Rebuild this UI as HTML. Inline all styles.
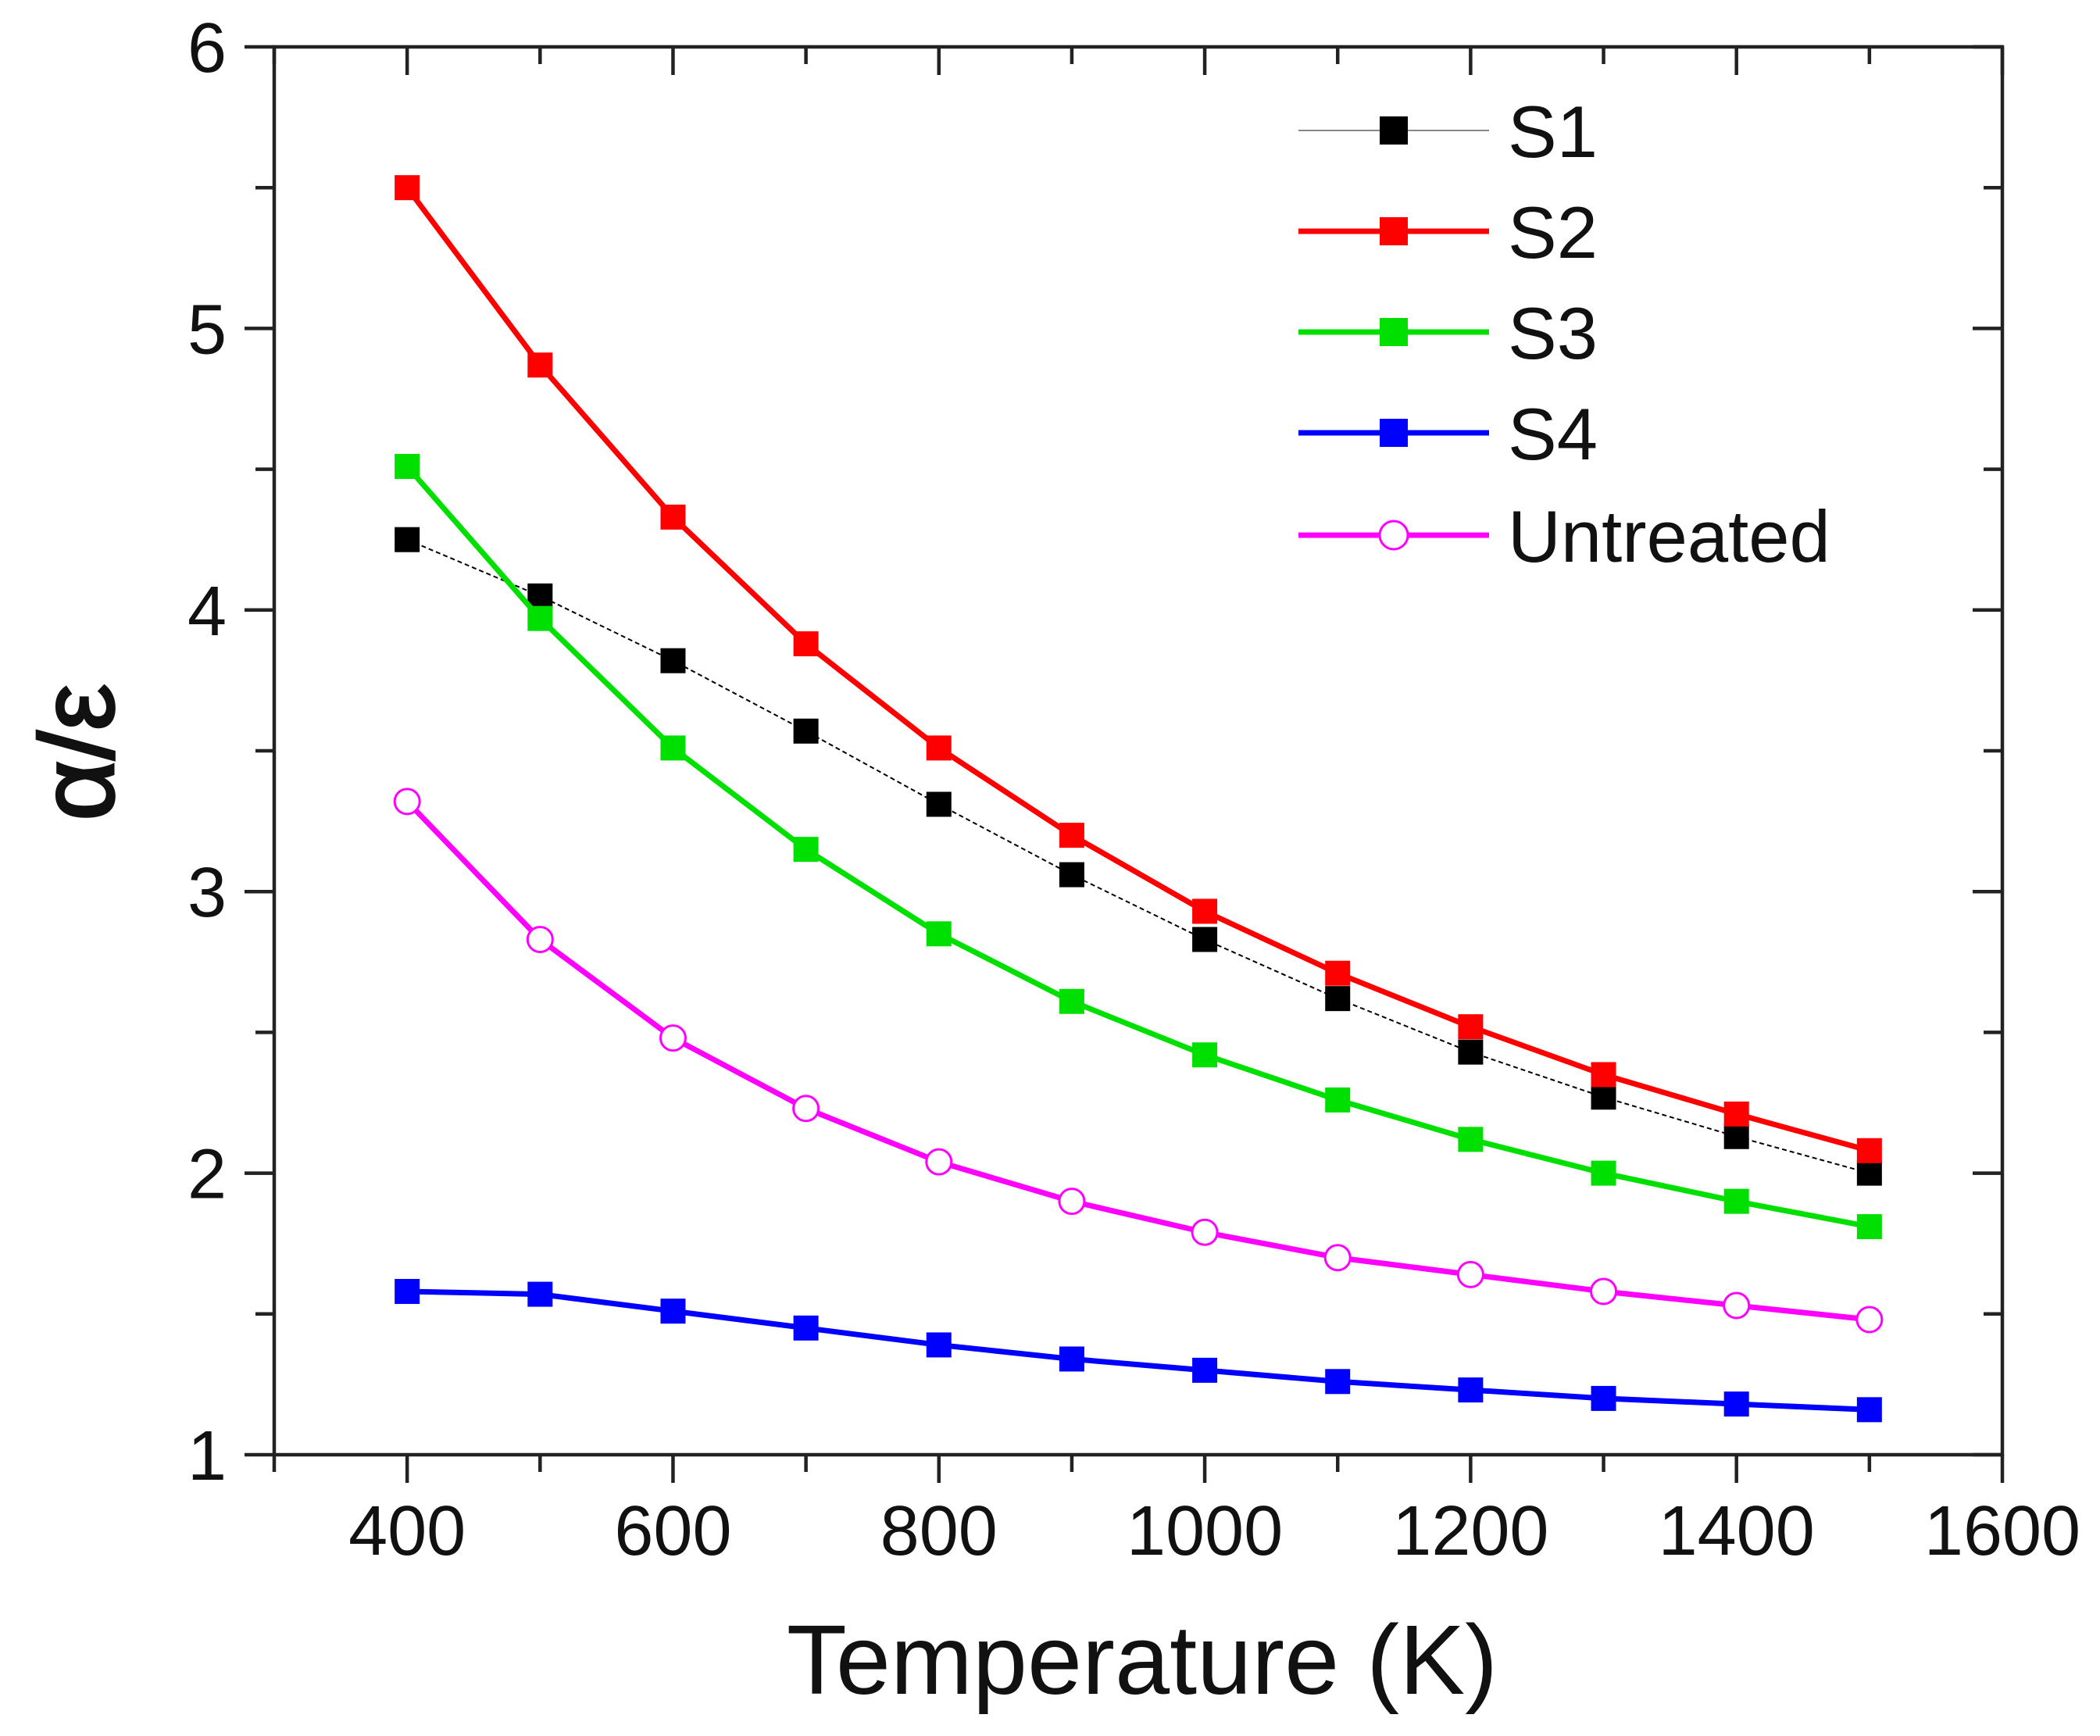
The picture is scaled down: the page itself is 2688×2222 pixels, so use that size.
<!DOCTYPE html>
<html><head><meta charset="utf-8"><style>
html,body{margin:0;padding:0;background:#fff}
svg{display:block}
text{font-family:"Liberation Sans",sans-serif;fill:#111}
</style></head><body>
<svg id="chart" width="2688" height="2222" viewBox="0 0 2688 2222" xmlns="http://www.w3.org/2000/svg">
<g id="grid"></g>
<g id="series"></g>
<g id="legend"></g>
<text x="1462" y="2168" font-size="126" text-anchor="middle">Temperature (K)</text>
<text x="0" y="0" font-size="135" text-anchor="middle" stroke="#111" stroke-width="3" transform="translate(145,963) rotate(-90)">α/ε</text>
</svg>
<script>
const temps=[400,500,600,700,800,900,1000,1100,1200,1300,1400,1500];
const s1=[4.25,4.05,3.82,3.57,3.31,3.06,2.83,2.62,2.43,2.27,2.13,2.0];
const s2=[5.5,4.87,4.33,3.88,3.51,3.2,2.93,2.71,2.52,2.35,2.21,2.08];
const s3=[4.51,3.97,3.51,3.15,2.85,2.61,2.42,2.26,2.12,2.0,1.9,1.81];
const s4=[1.58,1.57,1.51,1.45,1.39,1.34,1.30,1.26,1.23,1.20,1.18,1.16];
const untreated=[3.32,2.83,2.48,2.23,2.04,1.9,1.79,1.70,1.64,1.58,1.53,1.48];
const xTicks=[400,600,800,1000,1200,1400,1600];
const yTicks=[1,2,3,4,5,6];
const seriesNames=["S1","S2","S3","S4","Untreated"];

const NS="http://www.w3.org/2000/svg";
const L=351,R=2563,T=60,B=1862;
const X=v=>L+(v-300)/(1600-300)*(R-L);
const Y=v=>B-(v-1)/(6-1)*(B-T);
function mk(tag,attrs,parent){const e=document.createElementNS(NS,tag);for(const k in attrs)e.setAttribute(k,attrs[k]);parent.appendChild(e);return e;}
const grid=document.getElementById('grid');
const frame=mk('rect',{x:L,y:T,width:R-L,height:B-T,fill:'none',stroke:'#222','stroke-width':4.5},grid);


for(let v=300;v<=1600;v+=100){
  const major=v%200===0;const len=major?36:22;const x=X(v);
  const t1=mk('line',{x1:x,y1:B,x2:x,y2:B+len,stroke:'#222','stroke-width':4.5},grid);
  
  
  const t2=mk('line',{x1:x,y1:T,x2:x,y2:T+len,stroke:'#222','stroke-width':4.5},grid);
  
  
}
xTicks.forEach(v=>{
  const t=mk('text',{x:X(v),y:1990,'font-size':90,'text-anchor':'middle'},grid);t.textContent=v;
  
  
});
for(let v=1;v<=6.001;v+=0.5){
  const major=Math.abs(v-Math.round(v))<0.01;const len=major?38:24;const y=Y(v);
  const t1=mk('line',{x1:L-len,y1:y,x2:L,y2:y,stroke:'#222','stroke-width':4.5},grid);
  
  
  const t2=mk('line',{x1:R-len,y1:y,x2:R,y2:y,stroke:'#222','stroke-width':4.5},grid);
  
  
}
yTicks.forEach(v=>{
  const t=mk('text',{x:290,y:Y(v)+32,'font-size':90,'text-anchor':'end'},grid);t.textContent=v;
  
  
});
const styles=[
 {data:s1,color:'#000',lw:2,dash:'6,4',open:false},
 {data:s2,color:'#ff0000',lw:7,dash:'',open:false},
 {data:s3,color:'#00e000',lw:7,dash:'',open:false},
 {data:s4,color:'#0000ff',lw:7,dash:'',open:false},
 {data:untreated,color:'#ff00ff',lw:7,dash:'',open:true}
];
const sg=document.getElementById('series');
const lg=document.getElementById('legend');
const rowsY=[167,296,425,554,685];
styles.forEach((s,i)=>{
  const g=mk('g',{},sg);
  
  
  const pts=temps.map((t,j)=>X(t)+','+Y(s.data[j])).join(' ');
  const pl=mk('polyline',{points:pts,fill:'none',stroke:s.color,'stroke-width':s.lw,'stroke-dasharray':s.dash,'stroke-linejoin':'round'},g);
  
  
  temps.forEach((t,j)=>{
    let m;
    if(s.open)m=mk('circle',{cx:X(t),cy:Y(s.data[j]),r:16,fill:'#fff',stroke:s.color,'stroke-width':3},g);
    else m=mk('rect',{x:X(t)-16,y:Y(s.data[j])-16,width:32,height:32,fill:s.color},g);
    
    
  });
  const le=mk('g',{},lg);
  
  
  const y=rowsY[i];
  mk('line',{x1:1662,y1:y,x2:1906,y2:y,stroke:i===0?'#888':s.color,'stroke-width':i===0?2:s.lw},le);
  if(s.open)mk('circle',{cx:1784,cy:y,r:18,fill:'#fff',stroke:s.color,'stroke-width':3},le);
  else mk('rect',{x:1766,y:y-18,width:36,height:36,fill:s.color},le);
  const tx=mk('text',{x:1930,y:y+34,'font-size':94},le);tx.textContent=seriesNames[i];
});
</script>
</body></html>
